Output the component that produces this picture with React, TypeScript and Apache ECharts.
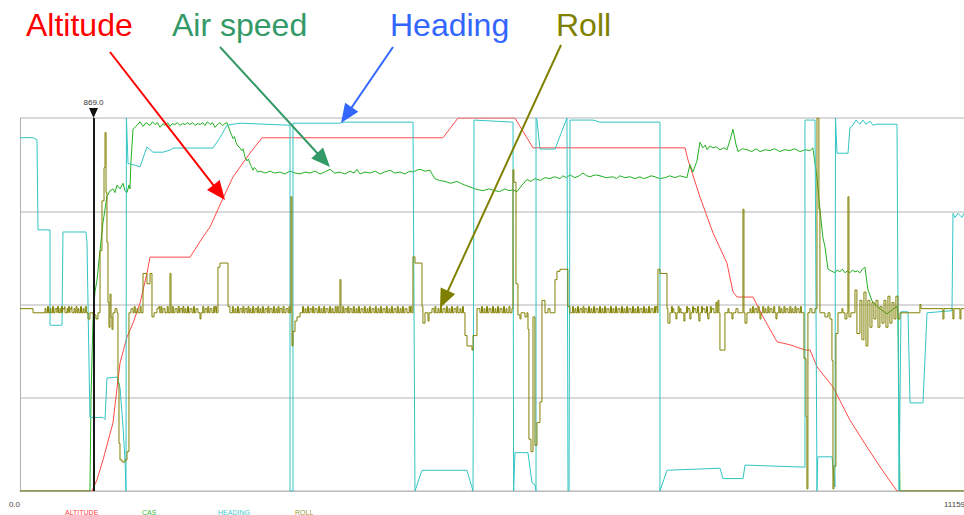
import React, { useEffect, useRef } from "react";
import * as echarts from "echarts";

// ---------- data (time units on x, engineering units on y) ----------
const xTicks = [0, 11159];
const markerTime = 869;

const seriesNames = ["ALTITUDE", "CAS", "HEADING", "ROLL"];

// altitude, ft (axis 0..10000)
const altitude: [number, number][] = [
  [0, 0], [851, 0], [910, 300], [981, 830], [1099, 1830], [1182, 3430], [1265, 4130], [1336, 4500],
  [1419, 5040], [1501, 5840], [1537, 6270], [2010, 6270], [2163, 6810], [2246, 7080], [2400, 7850],
  [2518, 8420], [2719, 9060], [2861, 9470], [5000, 9470], [5178, 10000], [5851, 10000], [6064, 9200],
  [7861, 9200], [7896, 8880], [8038, 7880], [8192, 6920], [8357, 6110], [8428, 5340], [8476, 5200],
  [8665, 5200], [8783, 4670], [8949, 4000], [9102, 3920], [9279, 3780], [9339, 3780], [9421, 3330],
  [9610, 2790], [9811, 1900], [10012, 1180], [10190, 570], [10367, 0], [11159, 0],
];

// calibrated air speed, kt (axis 0..200)
const cas: [number, number][] = [
  [0, 0], [827, 0], [839, 49], [863, 92], [887, 107], [910, 113], [946, 129], [981, 144], [1005, 151],
  [1028, 158], [1064, 161], [1099, 162], [1123, 160], [1147, 164], [1182, 162], [1218, 165], [1241, 161],
  [1265, 160], [1288, 164], [1300, 162], [1312, 177], [1336, 194], [1359, 195], [1383, 196], [1418, 198],
  [1454, 195.5], [1489, 197.5], [1537, 196], [1566, 198], [1596, 196.5], [1625, 197.5], [1655, 195],
  [1690, 197], [1714, 196], [1745, 197.5], [1773, 195.5], [1800, 197], [1832, 196.5], [1860, 197.5],
  [1891, 196], [1920, 197], [1950, 196.5], [1980, 197.5], [2009, 196.5], [2040, 197.5], [2069, 196],
  [2100, 197], [2128, 196.5], [2160, 197.5], [2187, 196], [2215, 198], [2246, 196.5], [2275, 197.5],
  [2305, 195], [2335, 196.5], [2364, 197.5], [2395, 196], [2423, 197], [2447, 197.5], [2482, 193],
  [2500, 191], [2518, 189], [2535, 190], [2553, 187], [2575, 185], [2600, 184], [2620, 182.5],
  [2636, 183.5], [2660, 179], [2683, 177], [2700, 178], [2719, 175.5], [2735, 174], [2754, 172],
  [2770, 173.5], [2790, 172.5], [2810, 171], [2837, 171.5], [2900, 170.5], [2955, 171.5], [3010, 170.5],
  [3073, 171], [3130, 170], [3191, 171.5], [3250, 170.5], [3310, 170], [3370, 171], [3428, 170.5],
  [3490, 171.5], [3546, 170], [3600, 171], [3664, 172.5], [3720, 170.5], [3782, 171], [3840, 170],
  [3901, 171.5], [3950, 170.5], [3983, 172.5], [4019, 170], [4080, 171], [4137, 170.5], [4200, 171.5],
  [4255, 170], [4310, 171], [4373, 172], [4430, 170.5], [4492, 171], [4550, 170], [4610, 171.5],
  [4645, 171], [4690, 172], [4728, 172.5], [4790, 171.5], [4846, 172], [4870, 170], [4905, 167.5],
  [4960, 166.5], [5024, 166], [5090, 165], [5165, 166], [5210, 165], [5260, 164], [5320, 163],
  [5378, 162], [5420, 161.5], [5473, 161], [5540, 162], [5615, 161], [5670, 160.5], [5733, 162],
  [5780, 161], [5827, 161.5], [5875, 160.5], [5934, 164], [5993, 167], [6040, 166], [6087, 167.5],
  [6150, 166.5], [6206, 168], [6265, 167.5], [6320, 168.5], [6383, 167.5], [6418, 169], [6460, 168],
  [6501, 169.5], [6560, 168], [6610, 169], [6655, 170.5], [6700, 169], [6737, 168.5], [6800, 169.5],
  [6856, 169], [6930, 168], [7009, 168.5], [7050, 167.5], [7092, 169], [7150, 168], [7210, 168.5],
  [7270, 167.5], [7328, 168.5], [7370, 167.5], [7411, 168], [7460, 169], [7506, 168.5], [7560, 167.5],
  [7624, 168], [7680, 169], [7742, 168], [7800, 169], [7884, 168], [7919, 175], [7955, 171],
  [8002, 177], [8038, 187], [8073, 184], [8100, 185.5], [8121, 183], [8156, 185], [8191, 184],
  [8230, 184.5], [8274, 183], [8320, 184], [8357, 183], [8392, 188], [8428, 194], [8463, 186],
  [8487, 182], [8540, 183.5], [8593, 183], [8650, 182], [8700, 183.5], [8747, 182], [8810, 183],
  [8865, 182.5], [8920, 183.5], [8983, 182], [9040, 183], [9101, 182.5], [9160, 183.5], [9220, 182],
  [9280, 183], [9338, 182.5], [9373, 184], [9421, 168], [9456, 151], [9491, 136], [9515, 131],
  [9551, 119], [9590, 118], [9634, 117], [9660, 118.5], [9692, 117.5], [9720, 119], [9752, 117],
  [9780, 118], [9811, 117], [9840, 118.5], [9870, 117.5], [9900, 118], [9929, 117], [9960, 119],
  [9988, 120], [10023, 108], [10071, 102], [10130, 99], [10189, 97], [10248, 95], [10307, 97],
  [10366, 99], [10378, 95], [10390, 49], [10402, 0], [11159, 0],
];

// magnetic heading, degrees (axis 0..360)
const heading: [number, number][] = [
  [0, 341], [154, 341], [201, 339], [213, 252], [355, 252], [355, 160], [496, 160], [508, 250],
  [780, 250], [792, 240], [804, 180], [827, 71], [981, 71], [1005, 69], [1028, 109], [1147, 110],
  [1182, 100], [1218, 62], [1241, 30], [1253, 0], [1258, 360], [1277, 316], [1336, 315], [1419, 313],
  [1501, 332], [1572, 327], [1690, 327], [1773, 329], [1809, 331], [2281, 331], [2364, 341],
  [2447, 353], [2601, 355], [3192, 353], [3192, 0], [3227, 0], [3227, 355], [3782, 355], [3818, 356],
  [4646, 356], [4669, 0], [4752, 20], [5284, 20], [5355, 0], [5367, 358], [5828, 356], [5835, 0],
  [5851, 37], [6005, 37], [6052, 8], [6088, 6], [6100, 0], [6100, 360], [6111, 358], [6147, 330],
  [6324, 330], [6466, 360], [6478, 0], [6490, 0], [6502, 358], [6773, 358], [6856, 356], [7565, 356],
  [7565, 0], [7648, 20], [8275, 22], [8310, 12], [8547, 12], [8570, 25], [9279, 23], [9279, 358],
  [9398, 358], [9421, 0], [9430, 33], [9599, 33], [9634, 4], [9640, 360], [9658, 326], [9788, 326],
  [9811, 351], [9847, 353], [9882, 358], [9929, 354], [9964, 358], [10000, 354], [10047, 357],
  [10083, 353], [10130, 354], [10367, 354], [10391, 0], [10414, 173], [10497, 173], [10521, 85],
  [10674, 85], [10722, 172], [11017, 174], [11029, 268], [11052, 264], [11088, 268], [11135, 264],
  [11159, 268],
];

// roll, degrees (axis -90..90), sample-and-hold
const roll: [number, number][] = [
  [0, -2], [154, -4], [296, -2], [307, -4], [355, -2], [366, -4], [414, -2], [437, -4], [473, -2],
  [485, -4], [508, -2], [532, -4], [556, -2], [567, -4], [591, -2], [615, -4], [638, -2], [650, -4],
  [686, -2], [697, -4], [745, -2], [756, -4], [804, -7], [827, -4], [863, -5], [898, -7], [922, -4],
  [946, 26], [969, 50], [993, 66], [1005, 83], [1017, 54], [1028, 30], [1040, 1], [1052, -11],
  [1064, 5], [1076, -6], [1087, -12], [1099, -4], [1123, -2], [1147, -4], [1158, -38], [1170, -67],
  [1182, -75], [1206, -76], [1241, -75], [1265, -71], [1288, -4], [1312, -2], [1336, -4], [1383, -2],
  [1395, -4], [1454, 15], [1501, 10], [1537, 15], [1560, -6], [1584, -4], [1619, -2], [1655, -4],
  [1690, -2], [1714, -4], [1773, 15], [1785, -4], [1832, -2], [1856, -4], [1891, -2], [1915, -4],
  [1950, -2], [1962, -4], [2009, -2], [2033, -4], [2080, -2], [2104, -4], [2128, -7], [2139, -4],
  [2187, -2], [2210, -4], [2246, -2], [2269, -4], [2340, 18], [2364, 20], [2447, 20], [2459, -1],
  [2482, -4], [2541, -2], [2553, -4], [2600, -2], [2624, -4], [2660, -2], [2683, -4], [2719, -2],
  [2730, -4], [2778, -2], [2801, -4], [2837, -2], [2848, -4], [2896, -2], [2920, -4], [2955, -2],
  [2979, -4], [3026, -2], [3038, -4], [3073, -2], [3097, -4], [3144, -2], [3168, -4], [3203, 52],
  [3215, -20], [3227, -13], [3251, -8], [3274, -6], [3310, -4], [3369, -2], [3381, -4], [3428, -2],
  [3451, -4], [3487, -2], [3511, -4], [3558, -2], [3570, -4], [3617, -2], [3641, -4], [3688, -2],
  [3700, -4], [3782, 12], [3794, -4], [3842, -2], [3865, -4], [3901, -2], [3924, -4], [3972, -2],
  [3984, -4], [4031, -2], [4054, -4], [4102, -2], [4113, -4], [4161, -2], [4184, -4], [4232, -2],
  [4244, -4], [4291, -2], [4315, -4], [4362, -2], [4373, -4], [4421, -2], [4444, -4], [4492, -2],
  [4504, -4], [4551, -2], [4574, -4], [4645, 23], [4669, 20], [4728, 20], [4752, -1], [4763, -9],
  [4787, -4], [4823, -8], [4835, -4], [4870, -2], [4894, -4], [4941, -2], [4953, -4], [5000, -2],
  [5024, -4], [5071, -2], [5083, -4], [5130, -2], [5154, -4], [5201, -2], [5213, -4], [5260, -15],
  [5284, -20], [5343, -22], [5355, -15], [5402, -2], [5437, -4], [5485, -2], [5496, -4], [5544, -2],
  [5567, -4], [5615, -2], [5626, -4], [5674, -2], [5697, -4], [5745, -2], [5756, -4], [5815, -2],
  [5827, 65], [5839, 59], [5863, 10], [5886, -5], [5910, -7], [5922, -4], [5969, -6], [5993, -4],
  [6005, -12], [6016, -65], [6040, -71], [6064, -6], [6087, -68], [6111, -57], [6146, -47], [6170, 2],
  [6206, -4], [6241, -2], [6265, -4], [6324, 12], [6347, 16], [6383, 17], [6466, 17], [6477, -1],
  [6501, -4], [6560, -2], [6572, -4], [6619, -2], [6643, -4], [6678, -2], [6702, -4], [6749, -2],
  [6761, -4], [6808, -2], [6832, -4], [6879, -2], [6891, -4], [6938, -2], [6962, -4], [7009, -2],
  [7021, -4], [7068, -2], [7092, -4], [7139, -2], [7151, -4], [7198, -2], [7222, -4], [7269, -2],
  [7281, -4], [7328, -2], [7352, -4], [7399, -2], [7411, -4], [7458, -2], [7482, -4], [7541, 17],
  [7565, 15], [7624, 15], [7648, -2], [7659, -9], [7683, -4], [7718, -2], [7730, -4], [7754, -7],
  [7766, -4], [7801, -2], [7813, -4], [7848, -8], [7860, -4], [7896, -2], [7919, -7], [7931, -4],
  [7967, -2], [7990, -4], [8026, -8], [8038, -4], [8073, -2], [8097, -4], [8132, -7], [8144, -4],
  [8179, -2], [8203, -4], [8227, 1], [8239, -4], [8250, 2], [8262, -4], [8274, -22], [8309, -22],
  [8333, -4], [8369, -2], [8380, -4], [8416, -7], [8428, -4], [8463, -2], [8487, -4], [8546, 46],
  [8558, -4], [8570, -9], [8593, -4], [8629, -2], [8641, -4], [8688, -2], [8711, -4], [8747, -7],
  [8759, -4], [8806, -2], [8818, -4], [8865, -2], [8889, -4], [8936, -7], [8948, -4], [8995, -2],
  [9007, -4], [9054, -2], [9078, -4], [9125, -2], [9137, -4], [9184, -2], [9208, -4], [9267, -26],
  [9291, -54], [9302, -89], [9314, -4], [9338, -2], [9361, -4], [9397, -2], [9421, 90], [9432, 90],
  [9444, 46], [9456, -4], [9515, -6], [9551, -4], [9574, -7], [9598, -27], [9610, -89], [9621, -78],
  [9645, -14], [9669, -4], [9716, -2], [9728, -4], [9752, -7], [9775, -4], [9787, 52], [9799, -6],
  [9822, -4], [9870, 7], [9893, -14], [9929, 2], [9952, -17], [9976, 6], [10000, -20], [10023, 2],
  [10047, -11], [10071, 1], [10094, -7], [10118, 2], [10142, -11], [10165, -1], [10189, -9],
  [10213, 2], [10236, -11], [10260, 4], [10283, -9], [10307, 1], [10331, -7], [10354, 4], [10378, -7],
  [10402, -4], [10638, 0], [10650, -2], [10910, -7], [10922, -2], [11028, -7], [11040, -2],
  [11111, -7], [11123, -2], [11159, -2],
];

// extra brief roll flickers (start times) on the level-flight baseline, each one sample long
const rollFlicker: number[] = [
  325, 385, 444, 490, 530, 575, 612, 662, 715, 772,
  1350, 1420, 1640, 1665, 1740, 1800, 1870, 1925, 1980, 2050, 2160, 2220, 2290, 2310,
  2510, 2570, 2635, 2695, 2750, 2810, 2865, 2930, 2995, 3050, 3110, 3180,
  3340, 3400, 3460, 3530, 3590, 3660, 3725, 3750, 3815, 3875, 3940, 4000, 4070, 4130, 4200,
  4260, 4330, 4390, 4460, 4520, 4600, 4620,
  4905, 4970, 5040, 5100, 5165, 5230, 5455, 5515, 5585, 5645, 5715, 5780,
  6530, 6590, 6655, 6720, 6780, 6850, 6910, 6980, 7040, 7110, 7170, 7240, 7300, 7370, 7430,
  7500, 7520, 7700, 7780, 7880, 7950, 8010, 8055, 8115, 8160,
  8660, 8725, 8780, 8840, 8910, 8970, 9030, 9100, 9160, 9225,
];
const FLICKER_UP = -1;
const ROLL_LEVEL = -4;
const SAMPLE = 12;

// annotations: label, colour
const annotations = [
  { text: "Altitude", color: "#ff0000" },
  { text: "Air speed", color: "#339966" },
  { text: "Heading", color: "#3366ff" },
  { text: "Roll", color: "#808000" },
];

// ---------- styles / layout ----------
const COLORS = { alt: "#ff4a4a", cas: "#22b022", hdg: "#33c4c4", roll: "#808000" };
const LEGEND_COLORS = ["#ff4040", "#33bb33", "#44cccc", "#999933"];
const LEGEND_X = [65, 142, 218, 295];
const ANNOT_POS = [
  { x: 26, y: 25, from: [110, 52], to: [225, 200] },
  { x: 172, y: 25, from: [220, 47], to: [330, 167] },
  { x: 390, y: 25, from: [393, 47], to: [341, 123] },
  { x: 556, y: 25, from: [561, 45], to: [440, 308] },
];
const FONT = "'Liberation Sans', Arial, sans-serif";

function arrow(from: number[], to: number[], color: string) {
  const [x1, y1] = from;
  const [x2, y2] = to;
  const dx = x2 - x1;
  const dy = y2 - y1;
  const L = Math.hypot(dx, dy);
  const ux = dx / L;
  const uy = dy / L;
  const len = 19;
  const half = 8;
  const bx = x2 - ux * len;
  const by = y2 - uy * len;
  return [
    {
      type: "line",
      shape: { x1, y1, x2: bx + ux * 2, y2: by + uy * 2 },
      style: { stroke: color, lineWidth: 2 },
      silent: true,
    },
    {
      type: "polygon",
      shape: {
        points: [
          [x2, y2],
          [bx - uy * half, by + ux * half],
          [bx + uy * half, by - ux * half],
        ],
      },
      style: { fill: color },
      silent: true,
    },
  ];
}

export default function App() {
  const ref = useRef<HTMLDivElement>(null);

  useEffect(() => {
    if (!ref.current) return;
    const chart = echarts.init(ref.current, null, { renderer: "svg" });

    const rollData: [number, number][] = roll.slice();
    rollFlicker.forEach((t) => {
      rollData.push([t, FLICKER_UP]);
      rollData.push([t + SAMPLE, ROLL_LEVEL]);
    });
    rollData.sort((a, b) => a[0] - b[0]);

    const graphics: any[] = [];
    annotations.forEach((a, i) => {
      const p = ANNOT_POS[i];
      graphics.push({
        type: "text",
        x: p.x,
        y: p.y,
        silent: true,
        z: 100,
        style: {
          text: a.text,
          fill: a.color,
          font: `32px ${FONT}`,
          textAlign: "left",
          textVerticalAlign: "middle",
        },
      });
      arrow(p.from, p.to, a.color).forEach((g) => graphics.push({ ...g, z: 100 }));
    });
    seriesNames.forEach((name, i) => {
      graphics.push({
        type: "text",
        x: LEGEND_X[i],
        y: 512,
        silent: true,
        style: {
          text: name,
          fill: LEGEND_COLORS[i],
          font: `7px ${FONT}`,
          textAlign: "left",
          textVerticalAlign: "middle",
        },
      });
    });
    // x-axis end labels
    graphics.push({
      type: "text",
      x: 20,
      y: 504,
      silent: true,
      style: {
        text: xTicks[0].toFixed(1),
        fill: "#444",
        font: `8px ${FONT}`,
        textAlign: "right",
        textVerticalAlign: "middle",
      },
    });
    graphics.push({
      type: "text",
      x: 944,
      y: 504,
      silent: true,
      style: {
        text: xTicks[1].toFixed(1),
        fill: "#444",
        font: `8px ${FONT}`,
        textAlign: "left",
        textVerticalAlign: "middle",
      },
    });

    const line = (name: string, data: any, color: string, yAxisIndex: number, extra: any = {}) => ({
      name,
      type: "line",
      data,
      yAxisIndex,
      showSymbol: false,
      symbol: "none",
      silent: true,
      lineStyle: { color, width: 1 },
      itemStyle: { color },
      ...extra,
    });

    chart.setOption({
      animation: false,
      backgroundColor: "#ffffff",
      grid: { left: 20, right: 0, top: 118, bottom: 24 },
      xAxis: {
        type: "value",
        min: xTicks[0],
        max: xTicks[1],
        axisLabel: { show: false },
        axisTick: { show: false },
        splitLine: { show: false },
        axisLine: { show: true, onZero: false, lineStyle: { color: "#bdbdbd", width: 1 } },
      },
      yAxis: [
        {
          type: "value",
          min: 0,
          max: 360,
          interval: 90,
          axisLabel: { show: false },
          axisTick: { show: false },
          axisLine: { show: true, lineStyle: { color: "#b0b0b0", width: 1 } },
          splitLine: { show: true, lineStyle: { color: "#d9d9d9", width: 2 } },
        },
        { type: "value", min: -90, max: 90, show: false },
        { type: "value", min: 0, max: 10000, show: false },
        { type: "value", min: 0, max: 200, show: false },
      ],
      series: [
        line(seriesNames[0], altitude, COLORS.alt, 2),
        line(seriesNames[1], cas, COLORS.cas, 3),
        line(seriesNames[2], heading, COLORS.hdg, 0),
        line(seriesNames[3], rollData, COLORS.roll, 1, {
          step: "end",
          markLine: {
            silent: true,
            symbol: ["none", "none"],
            label: { show: false },
            lineStyle: { color: "#1a1a1a", width: 2, type: "solid" },
            data: [{ xAxis: markerTime }],
          },
          markPoint: {
            silent: true,
            symbol: "triangle",
            symbolRotate: 180,
            symbolSize: [9, 10],
            symbolOffset: [0, -5],
            itemStyle: { color: "#111" },
            label: {
              show: true,
              position: "top",
              distance: 2,
              formatter: markerTime.toFixed(1),
              color: "#333",
              fontSize: 8,
              fontFamily: FONT,
            },
            data: [{ coord: [markerTime, 90] }],
          },
        }),
      ],
      graphic: graphics,
    });

    return () => chart.dispose();
  }, []);

  return (
    <div
      ref={ref}
      style={{ position: "fixed", left: 0, top: 0, width: 964, height: 515, background: "#fff" }}
    />
  );
}
